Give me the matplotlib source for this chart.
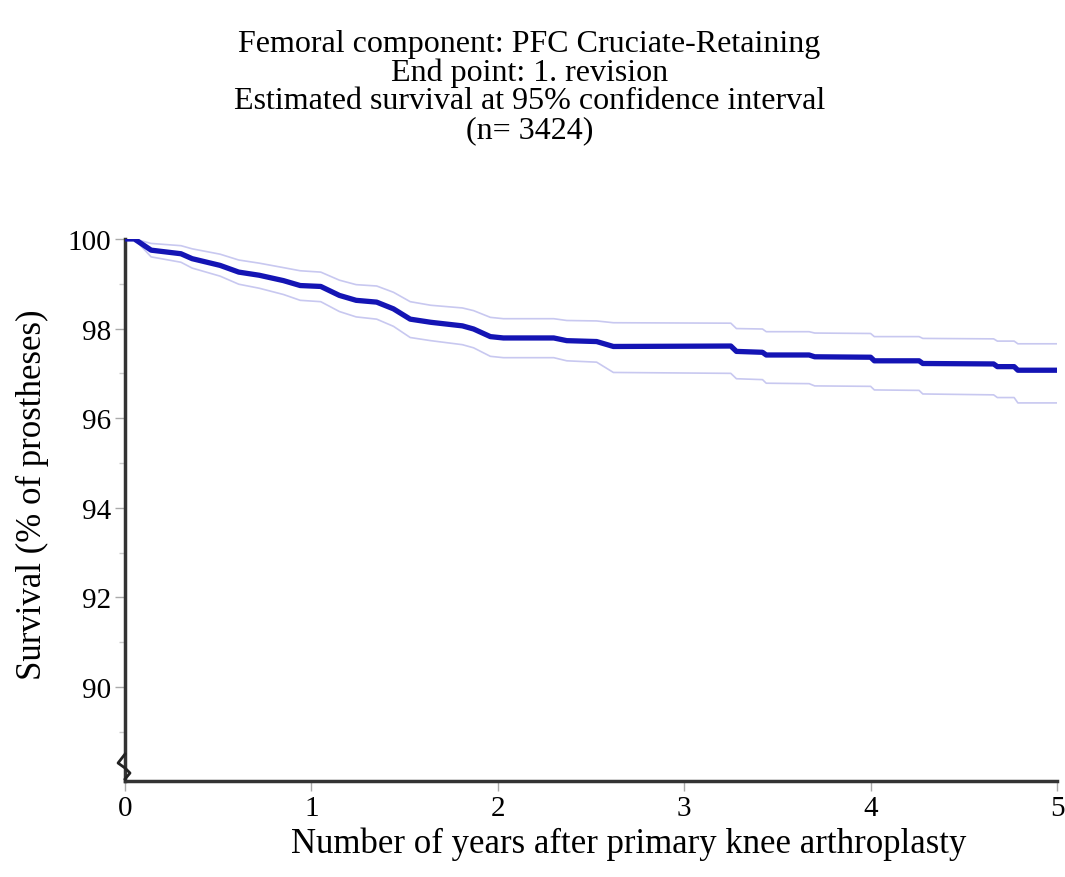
import numpy as np
import matplotlib
matplotlib.use('Agg')
import matplotlib.pyplot as plt

# 数据 (years, survival %)
years = [0, 0.05, 0.14, 0.30, 0.36, 0.51, 0.61, 0.72, 0.85, 0.94, 1.05, 1.15, 1.24, 1.35,
         1.44, 1.53, 1.64, 1.81, 1.87, 1.96, 2.03, 2.30, 2.37, 2.53, 2.62, 3.25, 3.28,
         3.42, 3.44, 3.67, 3.70, 4.00, 4.02, 4.26, 4.28, 4.66, 4.68, 4.77, 4.79, 5.0]
survival = [100.0, 100.0, 99.75, 99.67, 99.56, 99.41, 99.26, 99.19, 99.07, 98.96, 98.94,
            98.74, 98.63, 98.59, 98.44, 98.21, 98.14, 98.06, 97.99, 97.82, 97.79, 97.79,
            97.73, 97.71, 97.60, 97.61, 97.49, 97.47, 97.41, 97.41, 97.37, 97.36, 97.28,
            97.28, 97.22, 97.21, 97.15, 97.15, 97.07, 97.07]
upper = [100.0, 100.0, 99.90, 99.85, 99.78, 99.66, 99.53, 99.46, 99.36, 99.29, 99.26,
         99.08, 98.98, 98.95, 98.81, 98.60, 98.52, 98.46, 98.40, 98.25, 98.22, 98.22,
         98.18, 98.17, 98.13, 98.12, 98.00, 97.99, 97.93, 97.93, 97.90, 97.89, 97.82,
         97.82, 97.78, 97.77, 97.72, 97.72, 97.66, 97.66]
lower = [100.0, 100.0, 99.60, 99.48, 99.35, 99.17, 98.99, 98.90, 98.76, 98.63, 98.60,
         98.38, 98.26, 98.21, 98.05, 97.80, 97.73, 97.64, 97.57, 97.38, 97.35, 97.35,
         97.28, 97.25, 97.02, 97.00, 96.88, 96.86, 96.78, 96.77, 96.72, 96.71, 96.63,
         96.62, 96.54, 96.52, 96.46, 96.46, 96.34, 96.34]

title_lines = ['Femoral component: PFC Cruciate-Retaining',
               'End point: 1. revision',
               'Estimated survival at 95% confidence interval',
               '(n= 3424)']
y_ticks = [90, 92, 94, 96, 98, 100]
x_ticks = [0, 1, 2, 3, 4, 5]

plt.rcParams['font.family'] = ['Liberation Serif', 'DejaVu Serif']

fig = plt.figure(figsize=(10.65, 8.78), dpi=100)
ax = fig.add_axes([0.1174, 0.1093, 0.8751, 0.6174])

# 置信区间 + 生存曲线
ax.plot(years, upper, color='#c8c8f0', lw=1.2, zorder=2)
ax.plot(years, lower, color='#c8c8f0', lw=1.2, zorder=2)
ax.plot(years, survival, color='#1414b4', lw=3.8, zorder=3, solid_joinstyle='round')

ax.set_xlim(0, 5)
ax.set_ylim(87.9, 100)
ax.set_xticks(x_ticks)
ax.set_yticks(y_ticks)
ax.set_yticks(np.arange(89, 100, 1), minor=True)
ax.tick_params(axis='both', which='major', labelsize=21, color='#aaaaaa',
               length=7, width=1, direction='out', pad=3)
ax.tick_params(axis='y', which='minor', color='#cccccc', length=4, width=1)

for s in ['top', 'right']:
    ax.spines[s].set_visible(False)
for s in ['left', 'bottom']:
    ax.spines[s].set_linewidth(2.5)
    ax.spines[s].set_color('#333333')

ax.set_ylabel('Survival (% of prostheses)', fontsize=25)
ax.yaxis.set_label_coords(-0.082, 0.53)
ax.set_xlabel('Number of years after primary knee arthroplasty', fontsize=25)
ax.xaxis.set_label_coords(0.54, -0.083)

# 轴断裂符号
pts = [(0, 27), (-7, 18), (0, 13), (5, 8), (0, 2)]
origin = ax.transAxes.transform((0, 0))
inv = fig.transFigure.inverted()
q = inv.transform(np.array(pts, dtype=float) + origin)
fig.add_artist(plt.Line2D(q[:, 0], q[:, 1], color='#222222', lw=2))

# 标题
for i, line in enumerate(title_lines):
    fig.text(0.497, 0.949 - i * 0.0325, line, ha='center', va='center', fontsize=23)

fig.savefig('out.png', dpi=100)
